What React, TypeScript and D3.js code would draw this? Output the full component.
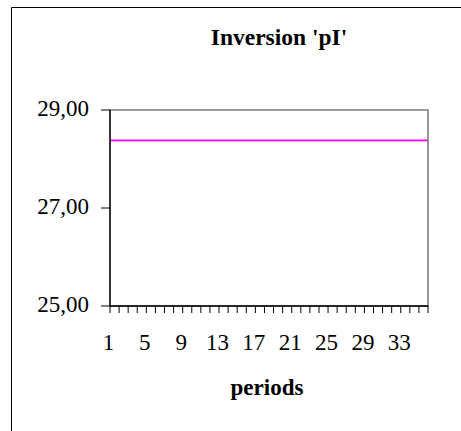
import React from "react";
import * as d3 from "d3";

const periods: number[] = Array.from({ length: 36 }, (_, i) => i + 1);
const inversionPI: number[] = [
  28.38, 28.38, 28.38, 28.38, 28.38, 28.38, 28.38, 28.38, 28.38, 28.38, 28.38, 28.38,
  28.38, 28.38, 28.38, 28.38, 28.38, 28.38, 28.38, 28.38, 28.38, 28.38, 28.38, 28.38,
  28.38, 28.38, 28.38, 28.38, 28.38, 28.38, 28.38, 28.38, 28.38, 28.38, 28.38, 28.38,
];
const yTicks: number[] = [25, 27, 29];
const xLabelPeriods: number[] = [1, 5, 9, 13, 17, 21, 25, 29, 33];
const title = "Inversion 'pI'";
const xTitle = "periods";

const W = 461;
const H = 431;
const plot = { left: 110, top: 110, right: 428, bottom: 306 };
const font = "'Liberation Serif', 'Times New Roman', serif";

export default function App() {
  const x = d3
    .scalePoint<number>()
    .domain(periods)
    .range([plot.left, plot.right]);
  const y = d3.scaleLinear().domain([25, 29]).range([plot.bottom, plot.top]);
  const line = d3
    .line<number>()
    .x((_, i) => x(periods[i]) as number)
    .y((d) => y(d));
  const fmt = (v: number) => v.toFixed(2).replace(".", ",");

  return (
    <svg
      width={W}
      height={H}
      style={{ position: "absolute", left: 0, top: 0, background: "#fff" }}
    >
      <rect x={0} y={0} width={W} height={H} fill="#fff" />
      {/* chart area border (left & top visible) */}
      <line x1={11.5} y1={7.5} x2={W + 5} y2={7.5} stroke="#000" strokeWidth={1} />
      <line x1={11.5} y1={7.5} x2={11.5} y2={H + 5} stroke="#000" strokeWidth={1} />

      {/* title */}
      <text
        x={279}
        y={45}
        textAnchor="middle"
        fontFamily={font}
        fontWeight="bold"
        fontSize={23.5}
      >
        {title}
      </text>

      {/* plot area border */}
      <rect
        x={plot.left}
        y={plot.top}
        width={plot.right - plot.left}
        height={plot.bottom - plot.top}
        fill="none"
        stroke="#999"
        strokeWidth={2}
      />

      {/* data line */}
      <path d={line(inversionPI) || ""} fill="none" stroke="#ff00ff" strokeWidth={1.7} />

      {/* y axis */}
      <line x1={plot.left} y1={plot.top} x2={plot.left} y2={plot.bottom} stroke="#000" strokeWidth={1.3} />
      {yTicks.map((t) => (
        <g key={t}>
          <line x1={plot.left - 9} x2={plot.left} y1={y(t)} y2={y(t)} stroke="#000" strokeWidth={1} />
          <text
            x={89}
            y={y(t) + 6}
            textAnchor="end"
            fontFamily={font}
            fontSize={23}
          >
            {fmt(t)}
          </text>
        </g>
      ))}

      {/* x axis */}
      <line x1={plot.left} y1={plot.bottom} x2={plot.right} y2={plot.bottom} stroke="#000" strokeWidth={1.3} />
      {periods.map((p) => (
        <line
          key={p}
          x1={x(p) as number}
          x2={x(p) as number}
          y1={plot.bottom}
          y2={plot.bottom + 7}
          stroke="#000"
          strokeWidth={1}
        />
      ))}
      {xLabelPeriods.map((p) => (
        <text
          key={p}
          x={(x(p) as number) - 1.5}
          y={350}
          textAnchor="middle"
          fontFamily={font}
          fontSize={23}
        >
          {p}
        </text>
      ))}
      <text
        x={267}
        y={395}
        textAnchor="middle"
        fontFamily={font}
        fontWeight="bold"
        fontSize={23}
      >
        {xTitle}
      </text>
    </svg>
  );
}
